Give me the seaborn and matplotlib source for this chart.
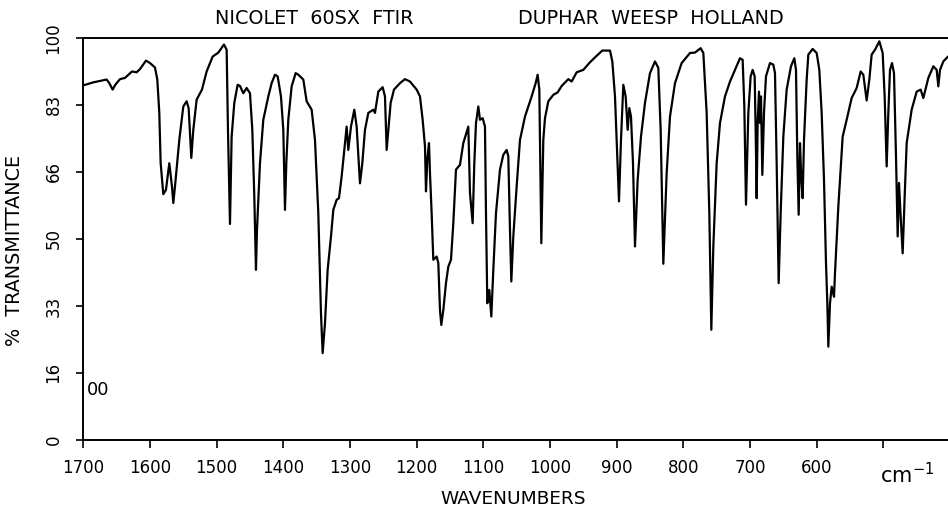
import numpy as np
import pandas as pd
import matplotlib
matplotlib.use("Agg")
import matplotlib.pyplot as plt
import seaborn as sns

# --- data ---
wavenumber = [
    1700, 1697, 1685, 1665, 1661, 1656, 1652, 1645, 1637.5, 1627, 1620, 1615, 1606, 1600,
    1592.5, 1589, 1586, 1584, 1580, 1576, 1571, 1567, 1565, 1562.5, 1556, 1550, 1545, 1542,
    1538, 1535, 1530, 1522, 1515, 1506, 1497.5, 1489, 1485, 1483, 1480, 1477.5, 1473.5,
    1468.5, 1465, 1460, 1455, 1450, 1446.5, 1443.5, 1441, 1439.5, 1435, 1430, 1422.5,
    1417.5, 1412.5, 1408.5, 1403.5, 1400, 1397.5, 1395.5, 1392.5, 1387.5, 1381.5, 1377.5,
    1370, 1365, 1357.5, 1352.5, 1347.5, 1343.5, 1341, 1337.5, 1333.5, 1328.5, 1325, 1320,
    1316.5, 1312.5, 1308.5, 1305, 1302.5, 1298.5, 1293.5, 1290, 1285, 1281.5, 1277.5,
    1272.5, 1265, 1262.5, 1257.5, 1251, 1247.5, 1245, 1242.5, 1239, 1234, 1225, 1217.5,
    1210, 1200, 1195, 1191, 1187.5, 1186, 1184, 1181.5, 1180, 1177.5, 1175, 1170, 1167.5,
    1165, 1163, 1160, 1156, 1152.5, 1148.5, 1145, 1141, 1135, 1130, 1122.5, 1120, 1116,
    1113.5, 1111, 1107.5, 1105, 1101, 1097.5, 1096, 1094, 1091, 1088, 1085, 1081, 1075,
    1070, 1065, 1062.5, 1060, 1058, 1055, 1050, 1045, 1037.5, 1027.5, 1021.5, 1018.5, 1016,
    1014.5, 1013, 1010, 1007.5, 1002.5, 995, 988.5, 982.5, 972.5, 967.5, 960, 950, 940,
    930, 921.5, 910, 906.5, 902.5, 900, 896.5, 893.5, 890, 886.5, 883.5, 881, 878.5, 875.5,
    872.5, 868.5, 863.5, 857.5, 850, 842.5, 837.5, 834, 830, 825, 820, 812.5, 802.5, 790,
    782.5, 774, 770, 765, 761, 758, 755, 750, 745, 737.5, 730, 722.5, 715, 711, 708.5, 706,
    702.5, 699, 696, 693, 691.5, 690, 688.5, 686.5, 685, 683.5, 681.5, 679, 676, 670, 665,
    662.5, 660, 657, 654, 650, 645, 638.5, 633.5, 631, 629, 627, 625, 623, 621, 619, 615,
    612.5, 606, 600, 596, 592.5, 589, 586, 584, 582.5, 580, 577.5, 574, 572.5, 567.5, 561,
    555, 547.5, 540, 534, 530, 525, 521, 517.5, 512.5, 506, 501, 498, 495, 492.5, 490, 487,
    484, 481, 478.5, 476.5, 474, 471, 468, 465, 457.5, 450, 444, 440, 432.5, 425, 420,
    417.5, 415, 410, 403,
]
transmittance = [
    88.2, 88.3, 88.9, 89.6, 88.7, 87.1, 88.3, 89.7, 90.0, 91.6, 91.4, 92.2, 94.3, 93.7,
    92.6, 89.6, 81.3, 68.9, 61.1, 62.2, 68.8, 63.0, 58.9, 63.0, 74.6, 82.9, 84.2, 82.5,
    70.1, 77.1, 84.6, 87.1, 91.6, 95.3, 96.3, 98.3, 97.0, 77.1, 53.7, 75.4, 83.8,
    88.3, 88.0, 86.2, 87.5, 86.2, 77.1, 60.5, 42.3, 52.2, 68.8, 79.6, 85.4,
    88.7, 90.8, 90.4, 85.4, 77.1, 57.2, 68.8, 79.6, 87.9, 91.2, 90.8,
    89.6, 84.2, 82.1, 74.6, 56.4, 31.5, 21.6, 29.0, 42.3, 50.6, 57.2, 59.7,
    60.1, 65.5, 72.1, 77.9, 72.1, 77.9, 82.1, 77.9, 63.8, 68.8, 77.1,
    81.3, 82.1, 81.3, 86.6, 87.7, 85.4, 72.1, 77.1, 83.8, 87.1, 88.7, 89.7,
    89.1, 87.1, 85.4, 79.6, 73.0, 61.8, 69.7, 73.8, 66.3, 56.4, 44.8, 45.6, 44.0,
    32.3, 28.6, 32.3, 39.0, 43.1, 44.8, 53.9, 67.2, 68.4, 73.8, 77.9, 61.4, 53.9,
    68.8, 78.8, 82.9, 79.6, 80.0, 77.9, 56.4, 34.0, 37.3, 30.7, 42.3, 56.4, 67.2,
    70.9, 72.1, 70.5, 52.2, 39.4, 50.6, 63.0, 74.6, 80.4, 85.4, 88.7, 90.8, 87.1,
    68.8, 48.9, 74.6, 80.0, 84.2, 85.8, 86.4, 88.0, 89.7, 89.1, 91.4, 92.0, 93.9,
    95.5, 96.8, 96.8, 94.1, 85.4, 74.6, 59.3, 74.6, 88.3, 85.4, 77.1, 82.5, 80.4, 68.8,
    48.1, 64.7, 75.4, 83.8, 91.2, 94.1, 92.5, 77.1, 43.8, 66.3, 80.4, 88.7, 93.7, 96.2,
    96.3, 97.4, 96.2, 81.3, 56.4, 27.4, 48.1, 68.8, 78.8, 85.4, 89.1, 92.0, 94.9, 94.5,
    82.9, 58.5, 81.3, 90.4, 92.0, 90.4, 77.1, 60.1, 78.8, 86.6, 78.8, 85.4, 65.9, 81.3,
    90.4, 93.7, 93.3, 91.2, 68.8, 39.0, 56.4, 75.4, 87.1, 92.9, 94.9, 92.0, 70.5, 56.0,
    73.8, 64.7, 60.1, 74.6, 89.6, 95.8, 97.2, 96.2, 92.0, 81.3, 64.7, 44.0, 34.0, 23.2,
    34.0, 38.1, 35.6, 41.5, 58.0, 75.4, 79.6, 85.0, 87.5, 91.6, 90.8, 84.4, 89.6, 95.8,
    97.0, 99.1, 96.2, 85.4, 68.0, 81.3, 92.0, 93.7, 91.2, 70.5, 50.6, 63.9, 55.5, 46.4,
    60.5, 73.8, 82.1, 86.6, 87.1, 85.0, 90.0, 92.9, 92.0, 87.9, 92.0, 94.1, 95.3,
]
x_ticks = [1700, 1600, 1500, 1400, 1300, 1200, 1100, 1000, 900, 800, 700, 600, 500]
x_tick_labels = ["1700", "1600", "1500", "1400", "1300", "1200", "1100", "1000",
                 "900", "800", "700", "600", ""]
y_ticks = [0, 16.67, 33.33, 50, 66.67, 83.33, 100]
y_tick_labels = ["0", "16", "33", "50", "66", "83", "100"]

df = pd.DataFrame({"wavenumber": wavenumber, "T": transmittance})

sns.set_style("ticks")
plt.rcParams["font.family"] = ["DejaVu Sans"]
plt.rcParams["text.color"] = "black"
plt.rcParams["mathtext.default"] = "regular"

fig = plt.figure(figsize=(9.48, 5.08), dpi=100)
ax = fig.add_axes([83.3 / 948, 68 / 508, 1 - 83.3 / 948, (440 - 37.7) / 508])

sns.lineplot(data=df, x="wavenumber", y="T", ax=ax, color="black",
             linewidth=1.6, sort=False)

ax.set_xlim(1700, 403)
ax.set_ylim(0, 100)
ax.set_xticks(x_ticks)
ax.set_xticklabels(x_tick_labels, fontsize=12)
ax.set_yticks(y_ticks)
ax.set_yticklabels(y_tick_labels, fontsize=12, rotation=90, va="center")
ax.set_xlabel("")
ax.set_ylabel("")
ax.tick_params(axis="x", direction="out", length=6, width=1.2, pad=8,
               colors="black", labelcolor="black")
ax.tick_params(axis="y", direction="out", length=5, width=1.2, pad=10,
               colors="black", labelcolor="black")
for side in ["left", "bottom", "top"]:
    ax.spines[side].set_visible(True)
    ax.spines[side].set_linewidth(1.4)
    ax.spines[side].set_color("black")
ax.spines["right"].set_visible(False)

fig.text(314 / 948, 1 - 18 / 508, "NICOLET  60SX  FTIR", ha="center", va="center",
         fontsize=13.8, color="black")
fig.text(651 / 948, 1 - 18 / 508, "DUPHAR  WEESP  HOLLAND", ha="center", va="center",
         fontsize=13.8, color="black")
fig.text(15 / 948, 1 - 250 / 508, "%  TRANSMITTANCE", ha="center", va="center",
         rotation=90, fontsize=13.8, color="black")
fig.text(513 / 948, 1 - 499 / 508, "WAVENUMBERS", ha="center", va="center",
         fontsize=13.3, color="black")
fig.text(907 / 948, 1 - 475 / 508, r"cm$^{-1}$", ha="center", va="center",
         fontsize=15, color="black")
fig.text(98 / 948, 1 - 390 / 508, "00", ha="center", va="center", fontsize=13,
         color="black")

fig.savefig("out.png", dpi=100)
